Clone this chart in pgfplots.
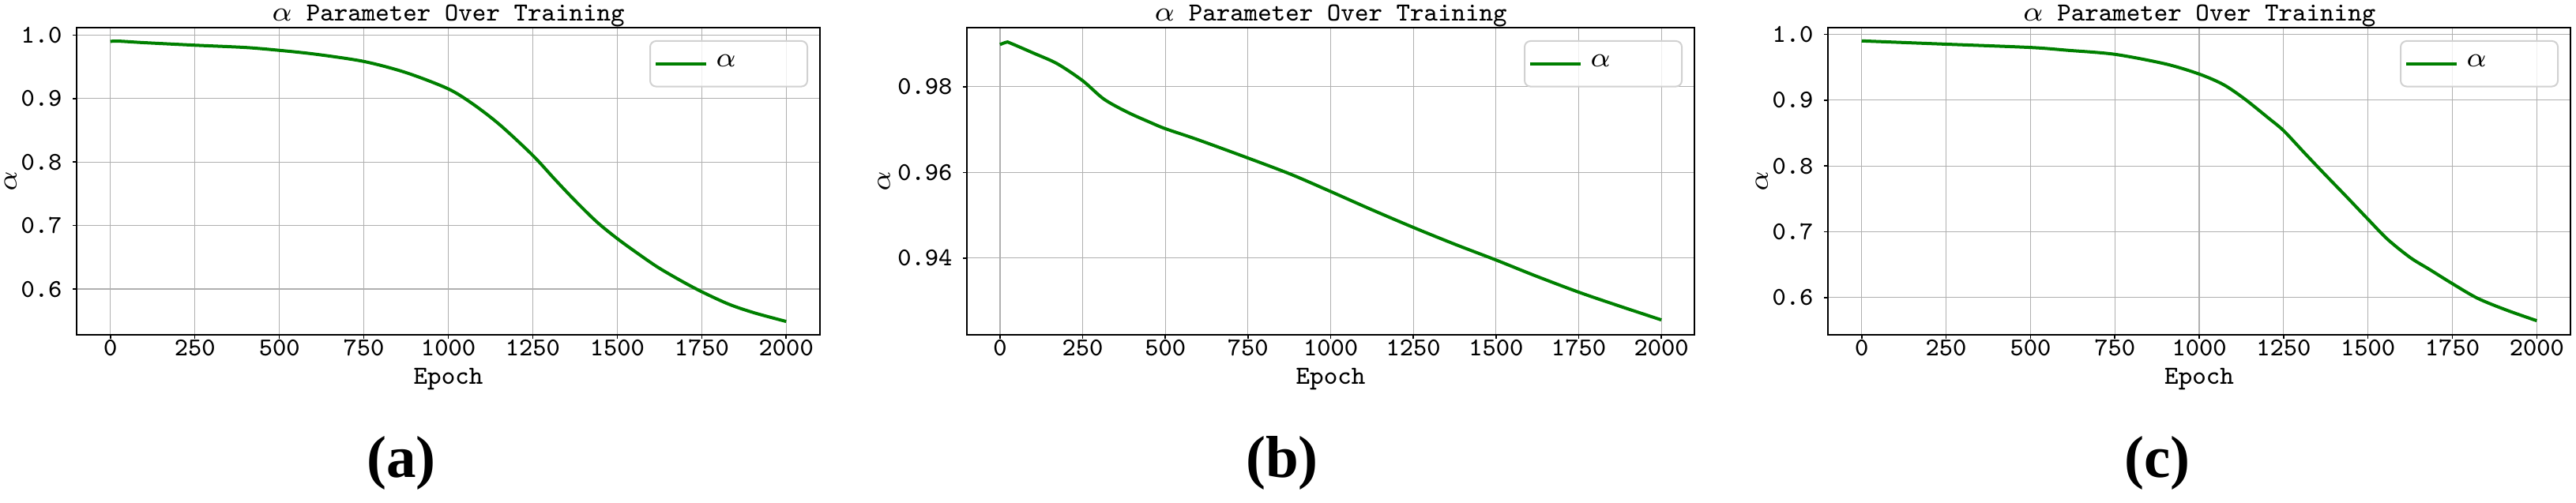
\documentclass[border=0pt]{standalone}
\usepackage{fontspec}
\usepackage{pgfplots}
\pgfplotsset{compat=1.18}
\newfontfamily\capfont{Liberation Serif}
\newcommand\tk{\ttfamily\fontsize{6.5pt}{7.5pt}\selectfont}
\newcommand\lb{\ttfamily\fontsize{6.6pt}{8pt}\selectfont}
\definecolor{mplgreen}{RGB}{0,128,0}
\definecolor{gridc}{RGB}{176,176,176}
\pgfplotsset{
 every axis title/.style={font=\lb, at={(axis description cs:0.5,1)}, anchor=base, yshift=1.6pt},
 every axis x label/.style={font=\lb, at={(axis description cs:0.5,0)}, anchor=base, yshift=-12.5pt},
 myax/.style={
  scale only axis, anchor=south west, height=77.8pt,
  xmin=-100, xmax=2100,
  xtick={0,250,...,2000},
  grid=major, major grid style={gridc, line width=0.25pt},
  axis line style={line width=0.4pt},
  tick align=outside, major tick length=1pt, tick style={black, line width=0.3pt},
  xtick pos=lower, ytick pos=left,
  /pgf/number format/assume math mode=true,
  tick label style={font=\tk},
  x tick label style={yshift=1.4pt, inner ysep=1.5pt, /pgf/number format/.cd, fixed, 1000 sep={}},
  title={$\alpha$ Parameter Over Training},
  xlabel={Epoch},
  ylabel={$\alpha$},
  legend style={font=\lb, at={(axis description cs:1,1)}, anchor=north east, xshift=-3pt, yshift=-3.2pt,
     draw=black!18, rounded corners=1.5pt, fill=white, fill opacity=0.8, text opacity=1,
     inner xsep=1pt, inner ysep=1.5pt},
  legend cell align=left,
  legend image code/.code={\draw[mplgreen, line width=0.8pt] (0pt,0pt) -- (12.8pt,0pt);},
 },
 myline/.style={mplgreen, line width=0.8pt, smooth, tension=0.5, no markers},
}
\pgfplotstableread{
x y
0 0.9900
25 0.9904
100 0.9880
250 0.9840
400 0.9804
500 0.9759
609 0.9697
750 0.9584
874 0.9410
1000 0.9152
1076 0.8902
1154 0.8580
1250 0.8105
1315 0.7730
1372 0.7410
1439 0.7060
1500 0.6795
1563 0.6552
1620 0.6344
1687 0.6136
1750 0.5958
1830 0.5762
1906 0.5625
2000 0.5490
}\dataA
\pgfplotstableread{
x y
0 0.98985
20 0.99040
31 0.99020
102 0.98783
173 0.98538
250 0.98141
314 0.97713
385 0.97407
456 0.97162
500 0.97021
598 0.96765
750 0.96336
880 0.95955
1000 0.95554
1120 0.95144
1250 0.94716
1375 0.94325
1500 0.93955
1618 0.93590
1750 0.93205
1873 0.92881
2000 0.92557
}\dataB
\pgfplotstableread{
x y
0 0.9900
250 0.9850
500 0.9800
613 0.9756
750 0.9696
900 0.9550
1000 0.9396
1072 0.9235
1134 0.9020
1205 0.8728
1250 0.8536
1310 0.8208
1367 0.7900
1434 0.7545
1500 0.7190
1558 0.6885
1625 0.6608
1682 0.6428
1751 0.6208
1825 0.5988
1911 0.5808
2000 0.5648
}\dataC
\begin{document}
\begin{tikzpicture}
\path[use as bounding box] (0,0) rectangle (652.2pt,127.4pt);
\begin{axis}[myax, at={(19.4pt,42.6pt)}, width=188.2pt,
  ymin=0.528, ymax=1.0117, ytick={0.6,0.7,0.8,0.9,1.0},
  yticklabel style={xshift=0.8pt, /pgf/number format/.cd, fixed, fixed zerofill, precision=1},
  ylabel style={font=\lb, at={(axis description cs:-0.089,0.5)}, anchor=center}]
\addplot[myline] table[x=x,y=y] {\dataA};
\addlegendentry{$\alpha$\hspace*{15pt}}
\end{axis}
\begin{axis}[myax, at={(244.8pt,42.6pt)}, width=184.2pt,
  ymin=0.9221, ymax=0.9938, ytick={0.94,0.96,0.98},
  yticklabel style={xshift=0.8pt, /pgf/number format/.cd, fixed, fixed zerofill, precision=2},
  ylabel style={font=\lb, at={(axis description cs:-0.114,0.5)}, anchor=center}]
\addplot[myline] table[x=x,y=y] {\dataB};
\addlegendentry{$\alpha$\hspace*{15pt}}
\end{axis}
\begin{axis}[myax, at={(462.8pt,42.6pt)}, width=188.0pt,
  ymin=0.5434, ymax=1.0102, ytick={0.6,0.7,0.8,0.9,1.0},
  yticklabel style={xshift=0.8pt, /pgf/number format/.cd, fixed, fixed zerofill, precision=1},
  ylabel style={font=\lb, at={(axis description cs:-0.089,0.5)}, anchor=center}]
\addplot[myline] table[x=x,y=y] {\dataC};
\addlegendentry{$\alpha$\hspace*{15pt}}
\end{axis}
\node[anchor=base, font=\capfont\bfseries\fontsize{15pt}{17pt}\selectfont] at (101.6pt,6.4pt) {(a)};
\node[anchor=base, font=\capfont\bfseries\fontsize{15pt}{17pt}\selectfont] at (324.6pt,6.4pt) {(b)};
\node[anchor=base, font=\capfont\bfseries\fontsize{15pt}{17pt}\selectfont] at (546.2pt,6.4pt) {(c)};
\end{tikzpicture}
\end{document}
